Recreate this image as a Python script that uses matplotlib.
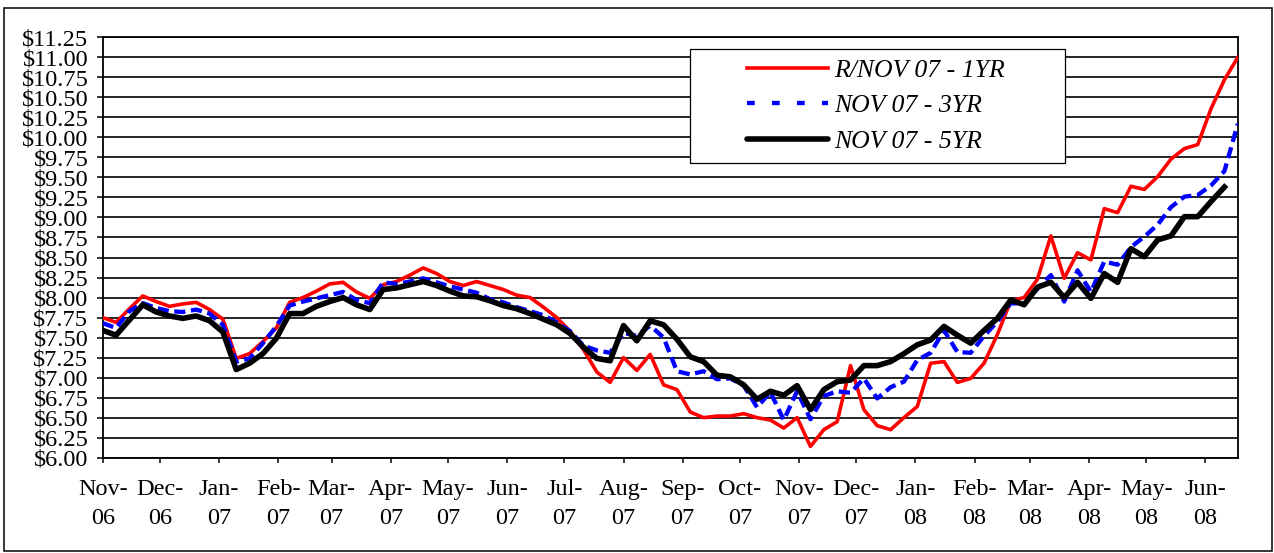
import numpy as np
import pandas as pd
import matplotlib
matplotlib.use("Agg")
import matplotlib.pyplot as plt
import matplotlib.dates as mdates
from matplotlib.lines import Line2D
from matplotlib.patches import Rectangle
from matplotlib.ticker import MultipleLocator, FuncFormatter

# ---- data (weekly observations) ----
dates = pd.date_range("2006-11-01", periods=86, freq="7D")

labels = ["R/NOV 07 - 1YR", "NOV 07 - 3YR", "NOV 07 - 5YR"]

red_1yr = [7.75, 7.69, 7.86, 8.02, 7.95, 7.89, 7.92, 7.94, 7.85, 7.73,
           7.24, 7.30, 7.45, 7.62, 7.94, 8.00, 8.08, 8.17, 8.19, 8.07,
           7.99, 8.16, 8.20, 8.28, 8.37, 8.30, 8.20, 8.15, 8.20, 8.15,
           8.10, 8.03, 8.00, 7.88, 7.75, 7.58, 7.35, 7.07, 6.94, 7.25,
           7.09, 7.29, 6.91, 6.85, 6.57, 6.50, 6.52, 6.52, 6.55, 6.50,
           6.47, 6.37, 6.50, 6.14, 6.35, 6.45, 7.15, 6.60, 6.40, 6.35,
           6.50, 6.64, 7.18, 7.20, 6.94, 6.99, 7.18, 7.54, 7.96, 8.00,
           8.23, 8.77, 8.24, 8.56, 8.47, 9.11, 9.06, 9.39, 9.35, 9.51,
           9.73, 9.86, 9.91, 10.36, 10.72, 11.00]

blue_3yr = [7.68, 7.62, 7.83, 7.93, 7.87, 7.83, 7.82, 7.85, 7.80, 7.66,
            7.20, 7.24, 7.43, 7.64, 7.90, 7.95, 7.99, 8.03, 8.07, 7.97,
            7.93, 8.19, 8.17, 8.20, 8.24, 8.19, 8.14, 8.10, 8.06, 7.98,
            7.94, 7.88, 7.83, 7.78, 7.69, 7.58, 7.40, 7.34, 7.31, 7.56,
            7.52, 7.65, 7.50, 7.08, 7.04, 7.08, 6.98, 6.99, 6.90, 6.63,
            6.82, 6.47, 6.83, 6.48, 6.77, 6.83, 6.81, 6.99, 6.74, 6.88,
            6.95, 7.22, 7.31, 7.59, 7.32, 7.31, 7.52, 7.70, 7.93, 7.92,
            8.11, 8.28, 7.95, 8.34, 8.07, 8.45, 8.41, 8.63, 8.76, 8.91,
            9.13, 9.26, 9.28, 9.40, 9.58, 10.17]

black_5yr = [7.59, 7.53, 7.72, 7.91, 7.82, 7.77, 7.74, 7.77, 7.71, 7.57,
             7.10, 7.18, 7.30, 7.49, 7.80, 7.80, 7.89, 7.95, 8.00, 7.91,
             7.85, 8.10, 8.12, 8.16, 8.20, 8.15, 8.08, 8.02, 8.01, 7.96,
             7.90, 7.86, 7.80, 7.73, 7.66, 7.55, 7.38, 7.24, 7.21, 7.65,
             7.46, 7.71, 7.66, 7.48, 7.26, 7.20, 7.03, 7.01, 6.91, 6.73,
             6.83, 6.78, 6.90, 6.60, 6.85, 6.95, 6.97, 7.15, 7.15, 7.20,
             7.30, 7.41, 7.47, 7.64, 7.53, 7.43, 7.59, 7.74, 7.97, 7.91,
             8.13, 8.19, 8.00, 8.19, 7.99, 8.30, 8.19, 8.61, 8.51, 8.72,
             8.77, 9.01, 9.01, 9.20, 9.38, np.nan]

# ---- figure ----
W, H = 1274, 553
fig = plt.figure(figsize=(W / 100, H / 100), dpi=100)
plt.rcParams["font.family"] = ["Liberation Serif", "DejaVu Serif"]

def fx(px):
    return px / W

def fy(py):
    return 1 - py / H

left, right, top, bottom = 102.7, 1237.8, 37.3, 457.7
ax = fig.add_axes([fx(left), fy(bottom), (right - left) / W, (bottom - top) / H])

x = mdates.date2num(dates.to_pydatetime())

ax.plot(x, red_1yr, color="#FF0000", lw=2.6, zorder=3)
ax.plot(x, blue_3yr, color="#0000FF", lw=3.1, dashes=(2.6, 1.3), zorder=4)
ax.plot(x, black_5yr, color="black", lw=4.0, zorder=5)

ax.set_xlim(x[0], x[-1])
ax.set_ylim(6.0, 11.25)
ax.yaxis.set_major_locator(MultipleLocator(0.25))
ax.yaxis.set_major_formatter(FuncFormatter(lambda v, p: f"${v:.2f}"))
ax.xaxis.set_major_locator(mdates.MonthLocator())
ax.xaxis.set_major_formatter(mdates.DateFormatter("%b-\n%y"))

ax.grid(axis="y", color="black", lw=1.2, zorder=1)
ax.set_axisbelow(True)
for s in ax.spines.values():
    s.set_linewidth(1.3)
    s.set_color("black")

ax.tick_params(axis="y", direction="out", length=4.3, width=1.1, pad=6,
               labelsize=17.5)
ax.tick_params(axis="x", direction="out", length=3.6, width=1.1, pad=12,
               labelsize=17.5)
for t in ax.get_xticklabels():
    t.set_linespacing(1.45)

# ---- legend box ----
fig.patches.append(Rectangle((fx(690), fy(162.7)), (1065 - 690) / W,
                             (162.7 - 49.3) / H, transform=fig.transFigure,
                             facecolor="white", edgecolor="black", lw=0.9,
                             zorder=6))
handles = [
    Line2D([], [], color="#FF0000", lw=2.6),
    Line2D([], [], color="#0000FF", lw=3.1, dashes=(1.8, 4.0)),
    Line2D([], [], color="black", lw=4.0, solid_capstyle="round"),
]
fig.legend(handles, labels, loc="upper left",
           bbox_to_anchor=(fx(746.7), fy(59.0)), borderaxespad=0,
           borderpad=0, frameon=False, handlelength=3.18,
           handletextpad=0.22, labelspacing=0.48,
           prop={"family": "Liberation Serif", "style": "italic", "size": 18.5})
fig.legends[-1].set_zorder(7)

# ---- outer border ----
fig.patches.append(Rectangle((fx(4), fy(551)), (1272 - 4) / W, (551 - 8) / H,
                             transform=fig.transFigure, facecolor="none",
                             edgecolor="black", lw=1.1, zorder=8))

fig.savefig("out.png", dpi=100)
